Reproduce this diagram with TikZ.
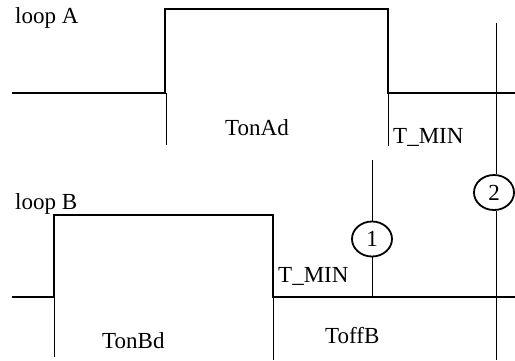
\documentclass[tikz,border=0pt]{standalone}
\usepackage{fontspec}
\setmainfont{Liberation Serif}
\usetikzlibrary{shapes.geometric}
\begin{document}
\begin{tikzpicture}[x=1pt,y=-1pt,
  wave/.style={line width=2pt,line join=miter},
  tick/.style={line width=0.9pt},
  lbl/.style={anchor=base west,inner sep=0pt,font=\fontsize{23}{27}\selectfont},
  mark/.style={}, 
  numcirc/.style={draw,ellipse,line width=1.8pt,minimum width=40pt,minimum height=35pt,inner sep=0pt,font=\fontsize{23}{27}\selectfont}]
\useasboundingbox (0,0) rectangle (515,360);
% loop A
\draw[wave] (12,93) -- (165,93) -- (165,9) -- (388,9) -- (388,93) -- (515,93);
\draw[tick] (166,93) -- (166,145);
\draw[tick] (388,93) -- (388,146);
\node[lbl] (la) at (15,23.5) {loop A};
\node[lbl] (tonad) at (225,135) {TonAd};
\node[lbl] (tmina) at (393,143) {T\_MIN};
% loop B
\draw[wave] (12,297) -- (54,297) -- (54,215) -- (273,215) -- (273,297) -- (515,297);
\draw[tick] (54,297) -- (54,357);
\draw[tick] (273,297) -- (273,360);
\node[lbl] (lb) at (15,209) {loop B};
\node[lbl] (tonbd) at (102,348) {TonBd};
\node[lbl] (tminb) at (278,282) {T\_MIN};
\node[lbl] (toffb) at (325,343) {ToffB};
% markers
\node[numcirc] (c1) at (372,239) {1};
\node[numcirc] (c2) at (494,192.5) {2};
\coordinate (c1top) at (372,160);
\coordinate (c1bot) at (372,297);
\coordinate (c2top) at (496,23);
\coordinate (c2bot) at (496,360);
\draw[tick] (c1top) -- (c1top |- c1.north);
\draw[tick] (c1bot |- c1.south) -- (c1bot);
\draw[tick] (c2top) -- (c2top |- c2.north);
\draw[tick] (c2bot |- c2.south) -- (c2bot);
\end{tikzpicture}
\end{document}
